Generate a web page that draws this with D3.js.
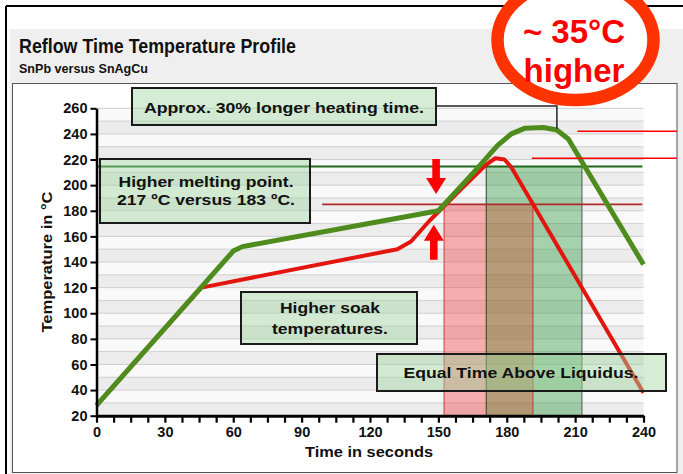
<!DOCTYPE html>
<html>
<head>
<meta charset="utf-8">
<script src="https://cdn.jsdelivr.net/npm/d3@7"></script>
<style>
  html, body { margin: 0; padding: 0; background: #fff; }
  svg { display: block; }
  text { font-family: "Liberation Sans", Arial, Helvetica, sans-serif; font-weight: bold; }
</style>
</head>
<body>
<svg id="chart" width="683" height="474"></svg>
<script>
// ---------------- DATA ----------------
const titleText = "Reflow Time Temperature Profile";
const subtitleText = "SnPb versus SnAgCu";
const xLabel = "Time in seconds";
const yLabel = "Temperature in °C";

const xTickLabels = [0, 30, 60, 90, 120, 150, 180, 210, 240];
const xMinorStep = 7.5;
const yTickLabels = [20, 40, 60, 80, 100, 120, 140, 160, 180, 200, 220, 240, 260];

// SnPb profile (red)
const snPbTime = [0, 46, 132, 138, 146, 160, 171, 175, 179, 182, 240];
const snPbTemp = [28, 120, 150, 156, 172, 197, 216, 221, 220, 214, 38];

// SnAgCu profile (green)
const sacTime = [0, 60, 64, 150, 165, 176, 182, 188, 196, 202, 207, 240];
const sacTemp = [28, 148.5, 152, 180, 209, 231, 240, 244.5, 245, 243, 236, 138];

// liquidus reference lines
const sacLiquidus = 214.5;
const snPbLiquidus = 185;
const snPbLiquidusStart = 99;

// time above liquidus windows
const snPbWindow = [152.5, 191.5];
const sacWindow = [171, 213];

// peak markers on the right
const peakTemps = [242, 221];
const peakStarts = [211, 191];

// arrows at the liquidus crossing (time, tip temperature, direction)
const arrowTime = [149, 148];
const arrowTip = [193, 169];
const arrowDir = ["down", "up"];

// annotation boxes
const boxLines = [
  ["Approx. 30% longer heating time."],
  ["Higher melting point.", "217 ºC versus 183 ºC."],
  ["Higher soak", "temperatures."],
  ["Equal Time Above Liquidus."]
];
const calloutLines = ["~ 35°C", "higher"];

// ---------------- LAYOUT ----------------
const svg = d3.select("#chart");
const x = d3.scaleLinear().domain([0, 240]).range([96.5, 643.5]);
const y = d3.scaleLinear().domain([20, 260]).range([415.7, 108.3]);

// frame and panels
svg.append("rect").attr("x", 10).attr("y", 29).attr("width", 673).attr("height", 445).attr("fill", "#efefef");
svg.append("line").attr("x1", 6).attr("y1", 6).attr("x2", 683).attr("y2", 6).attr("stroke", "#000").attr("stroke-width", 2);
svg.append("line").attr("x1", 6).attr("y1", 6).attr("x2", 6).attr("y2", 474).attr("stroke", "#000").attr("stroke-width", 2);
svg.append("rect").attr("x", 12.5).attr("y", 83.5).attr("width", 664.5).attr("height", 389)
  .attr("fill", "#fff").attr("stroke", "#555").attr("stroke-width", 1);

// titles
svg.append("text").attr("x", 19).attr("y", 53).attr("font-size", 19.5).attr("fill", "#111")
  .attr("textLength", 277).attr("lengthAdjust", "spacingAndGlyphs").text(titleText);
svg.append("text").attr("x", 19).attr("y", 73).attr("font-size", 13.5).attr("fill", "#111")
  .attr("textLength", 129).attr("lengthAdjust", "spacingAndGlyphs").text(subtitleText);

// grid bands
const bandEdges = d3.range(20, 260, 10);
svg.append("g").selectAll("rect").data(bandEdges).join("rect")
  .attr("x", x(0)).attr("width", x(240) - x(0))
  .attr("y", d => y(d + 10)).attr("height", d => y(d) - y(d + 10))
  .attr("fill", (d, i) => i % 2 === 0 ? "#ececec" : "#f9f9f9");
svg.append("g").selectAll("line").data(d3.range(30, 261, 10)).join("line")
  .attr("x1", x(0)).attr("x2", x(240))
  .attr("y1", d => y(d)).attr("y2", d => y(d))
  .attr("stroke", "#cfcfcf").attr("stroke-width", 1);

// time-above-liquidus windows
const ov = [Math.max(snPbWindow[0], sacWindow[0]), Math.min(snPbWindow[1], sacWindow[1])];
const winG = svg.append("g");
winG.append("rect").attr("x", x(snPbWindow[0])).attr("width", x(ov[0]) - x(snPbWindow[0]))
  .attr("y", y(snPbLiquidus)).attr("height", y(20) - y(snPbLiquidus))
  .attr("fill", "rgba(240,60,60,0.40)");
winG.append("rect").attr("x", x(ov[0])).attr("width", x(ov[1]) - x(ov[0]))
  .attr("y", y(snPbLiquidus)).attr("height", y(20) - y(snPbLiquidus))
  .attr("fill", "rgba(140,100,40,0.62)");
winG.append("rect").attr("x", x(ov[0])).attr("width", x(ov[1]) - x(ov[0]))
  .attr("y", y(sacLiquidus)).attr("height", y(snPbLiquidus) - y(sacLiquidus))
  .attr("fill", "rgba(40,150,60,0.40)");
winG.append("rect").attr("x", x(ov[1])).attr("width", x(sacWindow[1]) - x(ov[1]))
  .attr("y", y(sacLiquidus)).attr("height", y(20) - y(sacLiquidus))
  .attr("fill", "rgba(40,150,60,0.40)");
// window borders
[[snPbWindow[0], snPbLiquidus, "#c83a3a"], [snPbWindow[1], snPbLiquidus, "#c83a3a"],
 [sacWindow[0], sacLiquidus, "#2c3f2c"], [sacWindow[1], sacLiquidus, "#4a5a4a"]].forEach(b => {
  winG.append("line").attr("x1", x(b[0])).attr("x2", x(b[0])).attr("y1", y(b[1])).attr("y2", y(20))
    .attr("stroke", b[2]).attr("stroke-width", 1);
});
winG.append("line").attr("x1", x(sacWindow[0])).attr("x2", x(sacWindow[1]))
  .attr("y1", y(sacLiquidus)).attr("y2", y(sacLiquidus)).attr("stroke", "#2c3f2c").attr("stroke-width", 1);

// liquidus lines
svg.append("line").attr("x1", x(0)).attr("x2", x(239.5))
  .attr("y1", y(sacLiquidus)).attr("y2", y(sacLiquidus))
  .attr("stroke", "#1d6a1d").attr("stroke-width", 2);
svg.append("line").attr("x1", x(snPbLiquidusStart)).attr("x2", x(239.5))
  .attr("y1", y(snPbLiquidus)).attr("y2", y(snPbLiquidus))
  .attr("stroke", "#b02a2a").attr("stroke-width", 1.6);

// profiles
const line = d3.line().x(d => x(d[0])).y(d => y(d[1])).curve(d3.curveLinear);
const snPbData = snPbTime.map((t, i) => [t, snPbTemp[i]]);
const sacData = sacTime.map((t, i) => [t, sacTemp[i]]);
svg.append("path").datum(snPbData).attr("d", line).attr("fill", "none")
  .attr("stroke", "#e3160f").attr("stroke-width", 4).attr("stroke-linejoin", "round");
svg.append("path").datum(sacData).attr("d", line).attr("fill", "none")
  .attr("stroke", "#4e8c1e").attr("stroke-width", 5).attr("stroke-linejoin", "round");

// annotation boxes
const boxFill = "rgba(160,215,160,0.45)";
const boxes = [
  { x0: 132, y0: 88, x1: 436, y1: 125, lines: boxLines[0], cx: 284, base: [113], tl: [280] },
  { x0: 100, y0: 159, x1: 310, y1: 223, lines: boxLines[1], cx: 206, base: [187, 205], tl: [175, 178] },
  { x0: 241, y0: 292, x1: 417, y1: 344, lines: boxLines[2], cx: 330, base: [313, 334], tl: [100, 116] },
  { x0: 377, y0: 354, x1: 666, y1: 391, lines: boxLines[3], cx: 521, base: [378], tl: [235] }
];
boxes.forEach(b => {
  svg.append("rect").attr("x", b.x0).attr("y", b.y0).attr("width", b.x1 - b.x0).attr("height", b.y1 - b.y0)
    .attr("fill", boxFill).attr("stroke", "#1a1a1a").attr("stroke-width", 2);
  b.lines.forEach((s, i) => {
    svg.append("text").attr("x", b.cx).attr("y", b.base[i]).attr("text-anchor", "middle")
      .attr("font-size", 15.5).attr("fill", "#111")
      .attr("textLength", b.tl[i]).attr("lengthAdjust", "spacingAndGlyphs").text(s);
  });
});

// leader line from top box to peak
svg.append("path")
  .attr("d", `M436,106 H${x(202)} V${y(244)}`)
  .attr("fill", "none").attr("stroke", "#222").attr("stroke-width", 1.5);

// arrows
arrowTime.forEach((t, i) => {
  const cx = x(t), tip = y(arrowTip[i]);
  const s = arrowDir[i] === "down" ? -1 : 1; // direction from tip to tail
  const headLen = 16, headW = 10, shaftW = 3.8, total = 35;
  const p = [
    [cx, tip],
    [cx - headW, tip + s * headLen],
    [cx - shaftW, tip + s * headLen],
    [cx - shaftW, tip + s * total],
    [cx + shaftW, tip + s * total],
    [cx + shaftW, tip + s * headLen],
    [cx + headW, tip + s * headLen]
  ];
  svg.append("path").attr("d", "M" + p.map(q => q.join(",")).join("L") + "Z").attr("fill", "#ff0000");
});

// axes
const xAxis = d3.axisBottom(x).tickValues(d3.range(0, 240.01, xMinorStep))
  .tickSize(7).tickSizeOuter(0)
  .tickFormat(d => xTickLabels.includes(d) ? d : "");
const gx = svg.append("g").attr("transform", `translate(0,${y(20)})`).call(xAxis);
gx.select(".domain").attr("stroke", "#000").attr("stroke-width", 3);
gx.selectAll(".tick line").attr("stroke", "#000").attr("stroke-width", 2.2);
gx.selectAll(".tick text").attr("font-size", 14.5).attr("font-family", "Liberation Sans, Arial, sans-serif")
  .attr("font-weight", "bold").attr("fill", "#111").attr("dy", 0).attr("y", 21);

const yAxis = d3.axisLeft(y).tickValues(yTickLabels).tickSize(6).tickSizeOuter(0).tickPadding(3);
const gy = svg.append("g").attr("transform", `translate(${x(0)},0)`).call(yAxis);
gy.select(".domain").attr("stroke", "#000").attr("stroke-width", 2.5);
gy.selectAll(".tick line").attr("stroke", "#000").attr("stroke-width", 2);
gy.selectAll(".tick text").attr("font-size", 14.5).attr("font-family", "Liberation Sans, Arial, sans-serif")
  .attr("font-weight", "bold").attr("fill", "#111");

// axis titles
svg.append("text").attr("x", 369).attr("y", 457).attr("text-anchor", "middle").attr("font-size", 15)
  .attr("fill", "#111").attr("textLength", 128).attr("lengthAdjust", "spacingAndGlyphs").text(xLabel);
svg.append("text").attr("transform", "translate(52,262) rotate(-90)").attr("text-anchor", "middle")
  .attr("font-size", 15).attr("fill", "#111").attr("textLength", 141).attr("lengthAdjust", "spacingAndGlyphs").text(yLabel);

// peak marker lines (extend to panel edge)
peakTemps.forEach((v, i) => {
  svg.append("line").attr("x1", x(peakStarts[i])).attr("x2", 677)
    .attr("y1", y(v)).attr("y2", y(v)).attr("stroke", "#ff0000").attr("stroke-width", 1.5);
});

// callout ellipse
svg.append("ellipse").attr("cx", 575.5).attr("cy", 40).attr("rx", 78).attr("ry", 60)
  .attr("fill", "#fff").attr("stroke", "#ff3300").attr("stroke-width", 12.5);
svg.append("text").attr("x", 574).attr("y", 43).attr("text-anchor", "middle").attr("font-size", 33)
  .attr("fill", "#f00").text(calloutLines[0]);
svg.append("text").attr("x", 574).attr("y", 82).attr("text-anchor", "middle").attr("font-size", 33)
  .attr("fill", "#f00").text(calloutLines[1]);
</script>
</body>
</html>
